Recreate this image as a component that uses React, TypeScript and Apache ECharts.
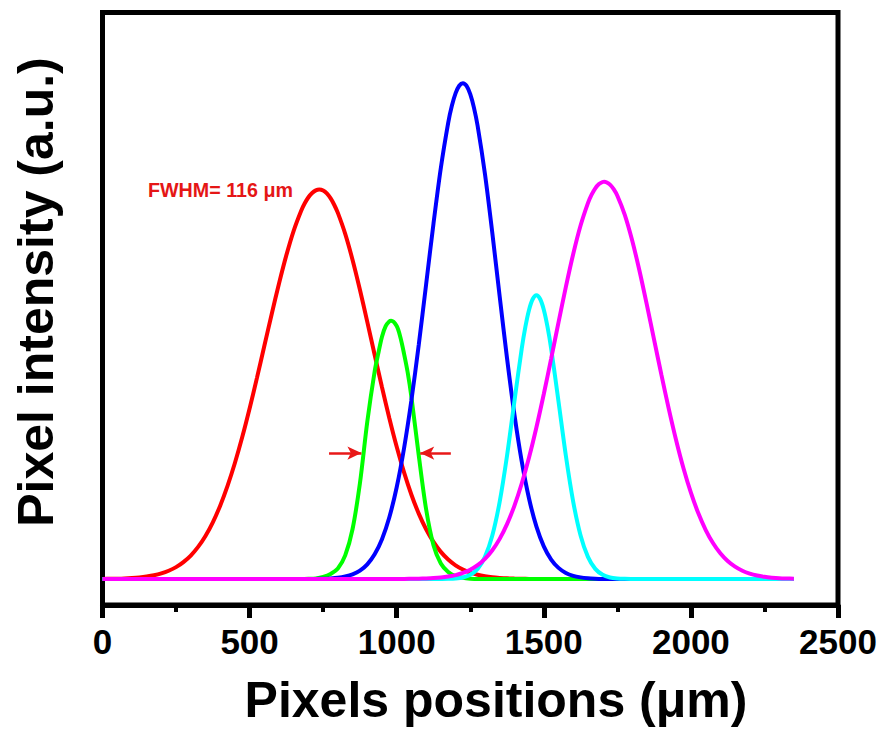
import React, { useEffect, useRef } from "react";
import * as echarts from "echarts";

// Each profile: [pixel position (µm), intensity (a.u.)]
const RED: number[][] = [
  [0, 0.02], [25, 0.04], [50, 0.06], [75, 0.1], [100, 0.17], [125, 0.27], [150, 0.42], [175, 0.63], [200, 0.95], [225, 1.4],
  [250, 2.01], [275, 2.86], [300, 3.97], [325, 5.43], [350, 7.28], [375, 9.59], [400, 12.4], [425, 15.75], [450, 19.62], [475, 24.01],
  [500, 28.85], [525, 34.03], [550, 39.41], [575, 44.8], [600, 50.01], [625, 54.8], [650, 58.96], [675, 62.28],
  [687.5, 63.57], [700, 64.59], [712.5, 65.32], [725, 65.76], [737, 65.9], [750, 65.73], [762.5, 65.23], [775, 64.43], [787.5, 63.32],
  [800, 61.94], [825, 58.39], [850, 53.98], [875, 48.94], [900, 43.51], [925, 37.94], [950, 32.44], [975, 27.2],
  [1000, 22.36], [1025, 18.03], [1050, 14.26], [1075, 11.06], [1100, 8.41], [1125, 6.27], [1150, 4.59], [1175, 3.29], [1200, 2.31], [1225, 1.6],
  [1250, 1.08], [1275, 0.72], [1300, 0.47], [1325, 0.3], [1350, 0.19], [1375, 0.11], [1400, 0.07], [1425, 0.04], [1450, 0.02], [1475, 0.01],
  [1500, 0], [2350, 0],
];

const GREEN: number[][] = [
  [0, 0], [675, 0], [700, 0.03], [725, 0.1], [750, 0.35], [775, 0.85], [800, 1.78], [825, 4.0], [850, 8.46], [875, 16.2],
  [900, 26.6], [925, 35.1], [937.5, 38.2], [950, 41.0], [962.5, 42.8], [975, 43.6], [981, 43.7], [1000, 42.8], [1012.5, 40.9],
  [1025, 38.1], [1037.5, 34.9], [1050, 30.8], [1075, 20.9], [1100, 11.8], [1125, 5.73], [1150, 2.63], [1175, 1.2], [1200, 0.5],
  [1225, 0.2], [1250, 0.06], [1275, 0], [2350, 0],
];

const BLUE: number[][] = [
  [0, 0], [675, 0], [700, 0.01], [725, 0.02], [750, 0.05], [775, 0.1], [800, 0.2], [825, 0.41], [850, 0.77], [875, 1.41],
  [900, 2.48], [925, 4.18], [950, 6.74], [975, 10.45], [1000, 15.52], [1025, 22.12], [1050, 30.23], [1075, 39.63], [1100, 49.85],
  [1125, 60.12], [1150, 69.55], [1175, 77.19], [1187.5, 80.06], [1200, 82.17], [1212.5, 83.46], [1225, 83.9], [1237.5, 83.43],
  [1250, 82.04], [1262.5, 79.76], [1275, 76.69], [1300, 68.53], [1325, 58.55], [1350, 47.82], [1375, 37.34], [1400, 27.88],
  [1425, 19.9], [1450, 13.58], [1475, 8.86], [1500, 5.52], [1525, 3.29], [1550, 1.88], [1575, 1.02], [1600, 0.53], [1625, 0.27],
  [1650, 0.13], [1675, 0.06], [1700, 0.02], [1725, 0.01], [1750, 0], [2350, 0],
];

const CYAN: number[][] = [
  [0, 0], [1125, 0], [1150, 0.01], [1175, 0.03], [1200, 0.09], [1225, 0.26], [1250, 0.71], [1275, 1.71], [1300, 3.74],
  [1325, 7.36], [1350, 13.06], [1375, 20.86], [1400, 30.04], [1425, 38.98], [1437.5, 42.69], [1450, 45.57], [1462.5, 47.38],
  [1475, 48.0], [1487.5, 47.38], [1500, 45.57], [1512.5, 42.69], [1525, 38.98], [1550, 30.04], [1575, 20.86], [1600, 13.06],
  [1625, 7.36], [1650, 3.74], [1675, 1.71], [1700, 0.71], [1725, 0.26], [1750, 0.09], [1775, 0.03], [1800, 0.01], [1825, 0],
  [2350, 0],
];

const MAGENTA: number[][] = [
  [0, 0], [975, 0], [1000, 0.01], [1025, 0.01], [1050, 0.03], [1075, 0.05], [1100, 0.09], [1125, 0.15], [1150, 0.25],
  [1175, 0.41], [1200, 0.65], [1225, 1.02], [1250, 1.56], [1275, 2.33], [1300, 3.41], [1325, 4.87], [1350, 6.79], [1375, 9.28],
  [1400, 12.38], [1425, 16.15], [1450, 20.6], [1475, 25.68], [1500, 31.3], [1525, 37.29], [1550, 43.42], [1575, 49.43],
  [1600, 55.0], [1625, 59.81], [1650, 63.6], [1662.5, 65.03], [1675, 66.11], [1687.5, 66.83], [1700, 67.17], [1705, 67.2],
  [1712.5, 67.13], [1725, 66.73], [1737.5, 65.96], [1750, 64.85], [1775, 61.66], [1800, 57.36], [1825, 52.2], [1850, 46.47],
  [1875, 40.47], [1900, 34.49], [1925, 28.75], [1950, 23.45], [1975, 18.7], [2000, 14.6], [2025, 11.15], [2050, 8.33],
  [2075, 6.09], [2100, 4.35], [2125, 3.04], [2150, 2.08], [2175, 1.39], [2200, 0.91], [2225, 0.58], [2250, 0.37],
  [2275, 0.23], [2300, 0.13], [2325, 0.08], [2350, 0.05],
];

const SERIES_NAMES = ["red", "green", "blue", "cyan", "magenta"];
const SERIES_DATA = [RED, GREEN, BLUE, CYAN, MAGENTA];
const SERIES_COLORS = ["#ff0000", "#00ff00", "#0000ff", "#00ffff", "#ff00ff"];

// FWHM arrows (x from, x to) at half maximum of the green profile
const ARROW_Y = 21.3;
const LEFT_ARROW = [770, 880];
const RIGHT_ARROW = [1184, 1080];

const X_TICKS = [0, 500, 1000, 1500, 2000, 2500];
const X_TITLE = "Pixels positions (μm)";
const Y_TITLE = "Pixel intensity (a.u.)";
const NOTE = "FWHM= 116 μm";

const FONT = '"Liberation Sans", Arial, Helvetica, sans-serif';

export default function App() {
  const ref = useRef<HTMLDivElement>(null);

  useEffect(() => {
    document.body.style.margin = "0";
    const chart = echarts.init(ref.current!, null, { renderer: "svg" });

    const series: any[] = SERIES_DATA.map((pts, k) => ({
      name: SERIES_NAMES[k],
      type: "line",
      data: pts,
      showSymbol: false,
      smooth: 0.3,
      lineStyle: { color: SERIES_COLORS[k], width: 4 },
      itemStyle: { color: SERIES_COLORS[k] },
      z: 2 + k,
    }));

    series.push({
      name: "arrows",
      type: "line",
      data: [],
      markLine: {
        silent: true,
        symbol: ["none", "arrow"],
        symbolSize: [10, 14],
        label: { show: false },
        lineStyle: { color: "#e81818", width: 2.5, type: "solid" },
        data: [
          [{ coord: [LEFT_ARROW[0], ARROW_Y] }, { coord: [LEFT_ARROW[1], ARROW_Y] }],
          [{ coord: [RIGHT_ARROW[0], ARROW_Y] }, { coord: [RIGHT_ARROW[1], ARROW_Y] }],
        ],
      },
      z: 10,
    });

    chart.setOption({
      animation: false,
      backgroundColor: "#ffffff",
      grid: {
        left: 102.5,
        top: 12.5,
        right: 50,
        bottom: 124,
        show: true,
        borderColor: "#000",
        borderWidth: 5,
        backgroundColor: "transparent",
      },
      xAxis: {
        type: "value",
        min: X_TICKS[0],
        max: X_TICKS[X_TICKS.length - 1],
        interval: 500,
        axisLine: { show: true, onZero: false, lineStyle: { color: "#000", width: 5 } },
        axisTick: { show: true, length: 13, lineStyle: { color: "#000", width: 5 } },
        minorTick: { show: true, splitNumber: 2, length: 7, lineStyle: { color: "#000", width: 4 } },
        axisLabel: {
          margin: 19,
          color: "#000",
          fontSize: 35,
          fontWeight: "bold",
          fontFamily: FONT,
          formatter: (v: number) => String(v),
        },
        splitLine: { show: false },
      },
      yAxis: {
        type: "value",
        min: -4.4,
        max: 95.85,
        axisLine: { show: false },
        axisTick: { show: false },
        axisLabel: { show: false },
        splitLine: { show: false },
      },
      graphic: [
        {
          type: "text",
          x: 36,
          y: 292,
          rotation: Math.PI / 2,
          style: {
            text: Y_TITLE,
            font: `bold 50px ${FONT}`,
            fill: "#000",
            textAlign: "center",
            textVerticalAlign: "middle",
          },
        },
        {
          type: "text",
          x: 496,
          y: 700,
          style: {
            text: X_TITLE,
            font: `bold 50px ${FONT}`,
            fill: "#000",
            textAlign: "center",
            textVerticalAlign: "middle",
          },
        },
        {
          type: "text",
          x: 148,
          y: 190,
          style: {
            text: NOTE,
            font: `bold 19.7px ${FONT}`,
            fill: "#e51616",
            textAlign: "left",
            textVerticalAlign: "middle",
          },
        },
      ],
      series,
    });

    return () => chart.dispose();
  }, []);

  return (
    <div
      ref={ref}
      style={{ position: "fixed", left: 0, top: 0, width: 888, height: 729, background: "#fff" }}
    />
  );
}
